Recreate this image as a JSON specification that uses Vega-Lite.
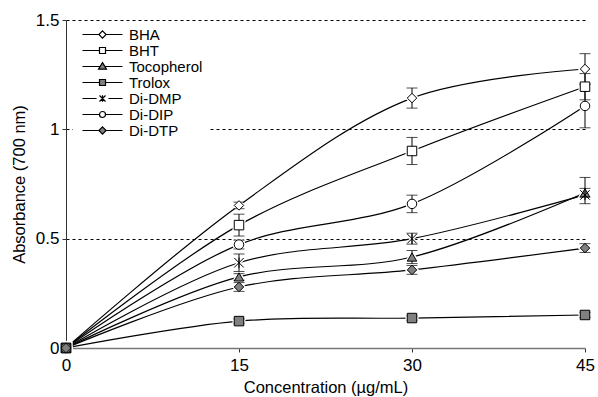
{
  "$schema": "https://vega.github.io/schema/vega-lite/v6.json",
  "autosize": "none",
  "width": 519,
  "height": 328,
  "padding": {"left": 66, "top": 20, "right": 13, "bottom": 49},
  "background": "white",
  "config": {
    "view": {"stroke": null},
    "font": "Liberation Sans",
    "axis": {"labelFont": "Liberation Sans", "titleFont": "Liberation Sans", "labelColor": "black", "titleColor": "black", "titleFontWeight": "normal", "labelFontSize": 17, "titleFontSize": 16.5, "tickColor": "#333", "tickSize": 4}
  },
  "data": {
    "values": [
      {"series": "BHA", "conc": 0, "abs": 0, "lo": null, "hi": null},
      {"series": "BHA", "conc": 15, "abs": 0.652, "lo": 0.637, "hi": 0.667},
      {"series": "BHA", "conc": 30, "abs": 1.143, "lo": 1.097, "hi": 1.189},
      {"series": "BHA", "conc": 45, "abs": 1.276, "lo": 1.206, "hi": 1.346},
      {"series": "BHT", "conc": 0, "abs": 0, "lo": null, "hi": null},
      {"series": "BHT", "conc": 15, "abs": 0.562, "lo": 0.512, "hi": 0.612},
      {"series": "BHT", "conc": 30, "abs": 0.901, "lo": 0.839, "hi": 0.963},
      {"series": "BHT", "conc": 45, "abs": 1.195, "lo": 1.135, "hi": 1.255},
      {"series": "Tocopherol", "conc": 0, "abs": 0, "lo": null, "hi": null},
      {"series": "Tocopherol", "conc": 15, "abs": 0.325, "lo": 0.31, "hi": 0.34},
      {"series": "Tocopherol", "conc": 30, "abs": 0.416, "lo": 0.386, "hi": 0.446},
      {"series": "Tocopherol", "conc": 45, "abs": 0.71, "lo": 0.69, "hi": 0.73},
      {"series": "Trolox", "conc": 0, "abs": 0, "lo": null, "hi": null},
      {"series": "Trolox", "conc": 15, "abs": 0.123, "lo": 0.113, "hi": 0.133},
      {"series": "Trolox", "conc": 30, "abs": 0.137, "lo": 0.127, "hi": 0.147},
      {"series": "Trolox", "conc": 45, "abs": 0.151, "lo": 0.139, "hi": 0.163},
      {"series": "Di-DMP", "conc": 0, "abs": 0, "lo": null, "hi": null},
      {"series": "Di-DMP", "conc": 15, "abs": 0.39, "lo": 0.35, "hi": 0.43},
      {"series": "Di-DMP", "conc": 30, "abs": 0.5, "lo": 0.475, "hi": 0.525},
      {"series": "Di-DMP", "conc": 45, "abs": 0.7, "lo": 0.66, "hi": 0.78},
      {"series": "Di-DIP", "conc": 0, "abs": 0, "lo": null, "hi": null},
      {"series": "Di-DIP", "conc": 15, "abs": 0.473, "lo": 0.453, "hi": 0.493},
      {"series": "Di-DIP", "conc": 30, "abs": 0.659, "lo": 0.619, "hi": 0.699},
      {"series": "Di-DIP", "conc": 45, "abs": 1.107, "lo": 1.007, "hi": 1.207},
      {"series": "Di-DTP", "conc": 0, "abs": 0, "lo": null, "hi": null},
      {"series": "Di-DTP", "conc": 15, "abs": 0.279, "lo": 0.259, "hi": 0.299},
      {"series": "Di-DTP", "conc": 30, "abs": 0.357, "lo": 0.337, "hi": 0.377},
      {"series": "Di-DTP", "conc": 45, "abs": 0.457, "lo": 0.437, "hi": 0.477}
    ]
  },
  "encoding": {
    "x": {"field": "conc", "type": "quantitative", "scale": {"domain": [0, 45], "nice": false},
      "axis": {"values": [0, 15, 30, 45], "title": "Concentration (µg/mL)", "grid": false, "domainColor": "#777", "domainWidth": 1.5, "labelPadding": 5, "titlePadding": 6, "labelFlush": false}},
    "y": {"field": "abs", "type": "quantitative", "scale": {"domain": [0, 1.5], "nice": false, "zero": true},
      "axis": {"values": [0, 0.5, 1, 1.5], "format": "~g", "title": "Absorbance (700 nm)", "grid": true, "gridColor": "black", "gridDash": [3, 3], "gridOpacity": {"condition": {"test": "datum.value === 0", "value": 0}, "value": 1}, "domainColor": "#333", "labelPadding": 3, "titlePadding": 8, "labelFlush": false}}
  },
  "layer": [
    {
      "mark": {"type": "line", "interpolate": "catmull-rom", "color": "black", "strokeWidth": 1.2},
      "encoding": {"detail": {"field": "series"}}
    },
    {
      "mark": {"type": "point", "filled": true, "fill": "white", "stroke": "white", "strokeWidth": 3.5, "size": 90, "opacity": 1},
      "encoding": {
        "shape": {"field": "series", "type": "nominal", "legend": null,
          "scale": {"domain": ["BHA", "BHT", "Tocopherol", "Trolox", "Di-DMP", "Di-DIP", "Di-DTP"],
            "range": ["diamond", "square", "triangle-up", "square", "M-1,-1L1,1M-1,1L1,-1M0,-1.1V1.1", "circle", "diamond"]}}
      }
    },
    {
      "transform": [{"filter": "datum.conc > 0"}],
      "mark": {"type": "rule", "color": "black", "strokeWidth": 1},
      "encoding": {"y": {"field": "lo", "type": "quantitative"}, "y2": {"field": "hi"}}
    },
    {
      "transform": [{"filter": "datum.conc > 0"}],
      "mark": {"type": "tick", "orient": "horizontal", "color": "black", "size": 11, "thickness": 1},
      "encoding": {"y": {"field": "lo", "type": "quantitative"}}
    },
    {
      "transform": [{"filter": "datum.conc > 0"}],
      "mark": {"type": "tick", "orient": "horizontal", "color": "black", "size": 11, "thickness": 1},
      "encoding": {"y": {"field": "hi", "type": "quantitative"}}
    },
    {
      "mark": {"type": "point", "filled": true, "stroke": "black", "strokeWidth": 1, "size": 90, "opacity": 1},
      "encoding": {
        "shape": {"field": "series", "type": "nominal", "legend": null,
          "scale": {"domain": ["BHA", "BHT", "Tocopherol", "Trolox", "Di-DMP", "Di-DIP", "Di-DTP"],
            "range": ["diamond", "square", "triangle-up", "square", "M-1,-1L1,1M-1,1L1,-1M0,-1.1V1.1", "circle", "diamond"]}},
        "fill": {"field": "series", "type": "nominal", "legend": null,
          "scale": {"domain": ["BHA", "BHT", "Tocopherol", "Trolox", "Di-DMP", "Di-DIP", "Di-DTP"],
            "range": ["white", "white", "#808080", "#808080", "white", "white", "#808080"]}}
      }
    },
    {
      "mark": {"type": "point", "filled": true, "stroke": "black", "strokeWidth": 1, "size": 36, "opacity": 0},
      "encoding": {
        "shape": {"field": "series", "type": "nominal",
          "scale": {"domain": ["BHA", "BHT", "Tocopherol", "Trolox", "Di-DMP", "Di-DIP", "Di-DTP"],
            "range": [
              "M-1,0H4.47M5.67,-1.2L6.87,0L5.67,1.2L4.47,0ZM6.87,0H12.33",
              "M-1,0H4.67M4.67,-1H6.67V1H4.67ZM6.67,0H12.33",
              "M-1,0H4.9M6.44,0H12.33M5.67,-1.3L7.0,0.9H4.34Z",
              "M-1,0H4.67M4.67,-1H6.67V1H4.67ZM6.67,0H12.33",
              "M-1,0H3.7M4.67,-1L6.67,1M4.67,1L6.67,-1M5.67,-1.1V1.1M7.64,0H12.33",
              "M-1,0H4.67M4.67,0A1,1 0 1,1 6.67,0A1,1 0 1,1 4.67,0ZM6.67,0H12.33",
              "M-1,0H4.47M5.67,-1.2L6.87,0L5.67,1.2L4.47,0ZM6.87,0H12.33"
            ]},
          "legend": {"title": null, "orient": "none", "legendX": 7, "legendY": 2, "padding": 5, "fillColor": "white",
            "labelFont": "Liberation Sans", "labelFontSize": 15, "labelColor": "black", "labelOffset": 36,
            "symbolSize": 36, "rowPadding": -0.3, "symbolOpacity": 1, "symbolStrokeColor": "black", "symbolStrokeWidth": 1.2,
            "encode": {"symbols": {"update": {"opacity": {"value": 1}, "stroke": {"value": "black"}, "strokeWidth": {"value": 1.2}}}}}},
        "fill": {"field": "series", "type": "nominal",
          "scale": {"domain": ["BHA", "BHT", "Tocopherol", "Trolox", "Di-DMP", "Di-DIP", "Di-DTP"],
            "range": ["white", "white", "#808080", "#808080", "white", "white", "#808080"]},
          "legend": {"title": null, "orient": "none", "legendX": 7, "legendY": 2, "padding": 5, "fillColor": "white",
            "labelFont": "Liberation Sans", "labelFontSize": 15, "labelColor": "black", "labelOffset": 36,
            "symbolSize": 36, "rowPadding": -0.3, "symbolOpacity": 1, "symbolStrokeColor": "black", "symbolStrokeWidth": 1.2,
            "encode": {"symbols": {"update": {"opacity": {"value": 1}, "stroke": {"value": "black"}, "strokeWidth": {"value": 1.2}}}}}}
      }
    }
  ],
  "resolve": {"scale": {"shape": "independent", "fill": "independent"}}
}
